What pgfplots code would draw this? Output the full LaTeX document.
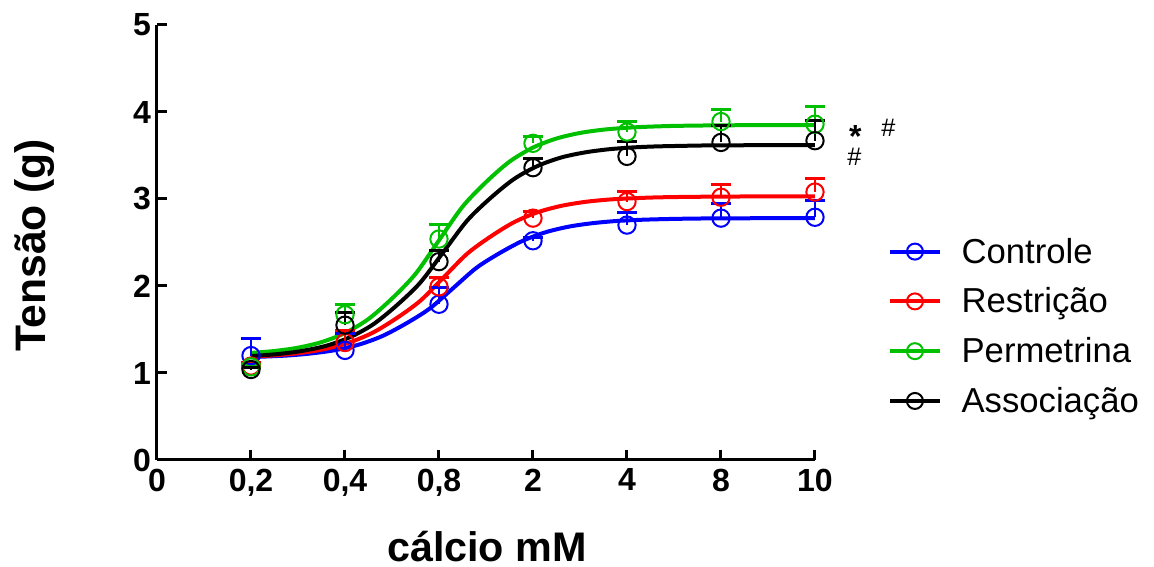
\documentclass[border=0pt]{standalone}
\usepackage{pgfplots}
\pgfplotsset{compat=1.18}
\usepackage{fontspec}
\setmainfont{Liberation Sans}
\definecolor{cblue}{RGB}{0,0,255}
\definecolor{cred}{RGB}{255,0,0}
\definecolor{cgreen}{RGB}{0,192,0}
\begin{document}
\begin{tikzpicture}
\useasboundingbox (-117.75pt,-80.25pt) rectangle (747.75pt,345pt);
\begin{axis}[
  scale only axis, width=493.5pt, height=326.25pt,
  xmin=0, xmax=7, ymin=0, ymax=5,
  axis lines=left, axis line style={line width=2.25pt, -},
  tick align=inside, major tick length=7.5pt,
  tick style={line width=2.25pt, black},
  xtick={0,1,2,3,4,5,6,7},
  xticklabels={0,{0,2},{0,4},{0,8},2,4,8,10},
  ytick={0,1,2,3,4,5},
  ticklabel style={font=\fontsize{24}{28}\selectfont\bfseries},
  /pgf/number format/assume math mode=true,
  xticklabel style={yshift=-3pt},
  yticklabel style={xshift=-1pt},
  clip=false,
  every axis x label/.style={at={(axis description cs:0.5015,-0.198)}, anchor=center, inner sep=0pt},
  every axis y label/.style={at={(axis description cs:-0.1854,0.494)}, anchor=center, rotate=90, inner sep=0pt},
  xlabel={\fontsize{31}{36}\selectfont\bfseries cálcio mM},
  ylabel={\fontsize{32}{36}\selectfont\bfseries Tensão (g)},
  legend style={at={(axis description cs:1.111,0.517)}, anchor=north west, draw=none, fill=none,
    font=\fontsize{26}{30}\selectfont, row sep=13pt, inner sep=0pt,
    /tikz/every even column/.append style={column sep=0pt}},
  legend cell align=left,
  legend image code/.code={\draw[#1, mark repeat=2, mark phase=2] plot coordinates {(0pt,0pt) (18.5pt,0pt) (37pt,0pt)};
    \node[anchor=west, inner sep=0pt] at (37pt,0pt) {\hspace*{13pt}};},
]
\addlegendimage{cblue, line width=3pt, mark=o, mark size=6pt, mark options={line width=1.5pt}}
\addlegendentry{Controle}
\addlegendimage{cred, line width=3pt, mark=o, mark size=6pt, mark options={line width=1.5pt}}
\addlegendentry{Restrição}
\addlegendimage{cgreen, line width=3pt, mark=o, mark size=6pt, mark options={line width=1.5pt}}
\addlegendentry{Permetrina}
\addlegendimage{black, line width=3pt, mark=o, mark size=6pt, mark options={line width=1.5pt}}
\addlegendentry{Associação}

% fitted curves
\addplot[cblue, line width=3pt, smooth, forget plot] coordinates {
(1,1.183)(1.15,1.189)(1.4,1.202)(1.65,1.226)(1.9,1.264)(2.15,1.327)(2.4,1.426)(2.65,1.569)(2.9,1.740)(3.15,1.975)(3.4,2.210)(3.65,2.381)(3.9,2.524)(4.15,2.623)(4.4,2.686)(4.65,2.724)(4.9,2.748)(5.15,2.761)(5.4,2.769)(5.65,2.774)(5.9,2.777)(6.15,2.778)(6.4,2.779)(6.65,2.779)(7,2.780)};
\addplot[cred, line width=3pt, smooth, forget plot] coordinates {
(1,1.189)(1.05,1.192)(1.3,1.207)(1.55,1.234)(1.8,1.279)(2.05,1.352)(2.3,1.466)(2.55,1.631)(2.8,1.829)(3.05,2.100)(3.3,2.371)(3.55,2.569)(3.8,2.734)(4.05,2.848)(4.3,2.921)(4.55,2.966)(4.8,2.993)(5.05,3.008)(5.3,3.018)(5.55,3.023)(5.8,3.026)(6.05,3.028)(6.3,3.029)(6.55,3.029)(6.8,3.030)(7,3.030)};
\addplot[cgreen, line width=3pt, smooth, forget plot] coordinates {
(1,1.231)(1.25,1.253)(1.5,1.291)(1.75,1.355)(2,1.459)(2.25,1.621)(2.5,1.856)(2.75,2.139)(3,2.525)(3.25,2.911)(3.5,3.194)(3.75,3.429)(4,3.591)(4.25,3.695)(4.5,3.759)(4.75,3.797)(5,3.819)(5.25,3.832)(5.5,3.840)(5.75,3.844)(6,3.847)(6.25,3.848)(6.5,3.849)(6.75,3.850)(7,3.850)};
\addplot[black, line width=3pt, smooth, forget plot] coordinates {
(1,1.195)(1.05,1.198)(1.3,1.219)(1.55,1.255)(1.8,1.313)(2.05,1.410)(2.3,1.559)(2.55,1.777)(2.8,2.038)(3.05,2.395)(3.3,2.752)(3.55,3.013)(3.8,3.231)(4.05,3.380)(4.3,3.477)(4.55,3.535)(4.8,3.571)(5.05,3.592)(5.3,3.604)(5.55,3.610)(5.8,3.615)(6.05,3.617)(6.3,3.618)(6.55,3.619)(6.8,3.620)(7,3.620)};

% data with SEM (upper only)
\pgfplotsset{datastyle/.style={#1, only marks, mark=o, mark size=6.5pt, mark options={line width=1.5pt, #1}, forget plot,
  error bars/.cd, y dir=plus, y explicit, error bar style={line width=1.5pt, #1},
  error mark options={rotate=90, #1, line width=2.25pt, mark size=7.5pt}}}
\addplot[datastyle=cblue] table[x=x, y=y, y error=e] {
x y e
1 1.20 0.20
2 1.26 0.19
3 1.79 0.19
4 2.52 0.04
5 2.70 0.14
6 2.78 0.17
7 2.79 0.19
};
\addplot[datastyle=cred] table[x=x, y=y, y error=e] {
x y e
1 1.08 0.04
2 1.35 0.14
3 1.99 0.11
4 2.78 0.08
5 2.97 0.12
6 3.02 0.15
7 3.08 0.16
};
\addplot[datastyle=cgreen] table[x=x, y=y, y error=e] {
x y e
1 1.07 0.03
2 1.67 0.12
3 2.54 0.17
4 3.64 0.08
5 3.77 0.12
6 3.89 0.14
7 3.86 0.20
};
\addplot[datastyle=black] table[x=x, y=y, y error=e] {
x y e
1 1.04 0.02
2 1.55 0.14
3 2.28 0.13
4 3.36 0.10
5 3.49 0.17
6 3.65 0.20
7 3.67 0.23
};

\node[inner sep=0pt, font=\fontsize{24}{26}\selectfont\bfseries] at (axis cs:7.43,3.72) {*};
\node[inner sep=0pt, font=\fontsize{19}{21}\selectfont] at (axis cs:7.78,3.82) {\#};
\node[inner sep=0pt, font=\fontsize{19}{21}\selectfont] at (axis cs:7.42,3.49) {\#};
\end{axis}
\end{tikzpicture}
\end{document}
